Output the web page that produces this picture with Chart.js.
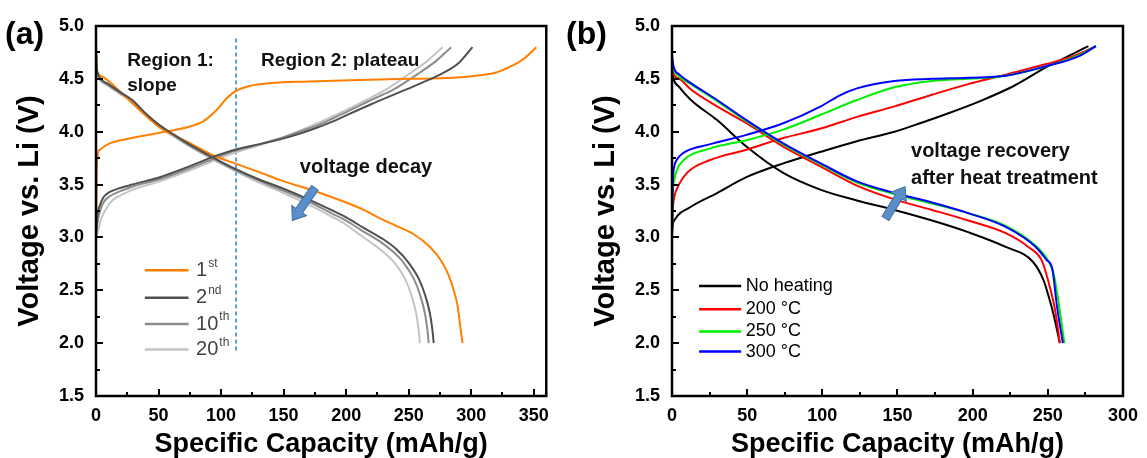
<!DOCTYPE html>
<html>
<head>
<meta charset="utf-8">
<script src="https://cdn.jsdelivr.net/npm/chart.js@4.4.1/dist/chart.umd.min.js"></script>
<style>
  body { margin: 0; background: #fff; }
  #wrap { position: relative; width: 1147px; height: 458px; }
  canvas { position: absolute; top: 0; }
  #chartA { left: 0; }
  #chartB { left: 558px; }
</style>
</head>
<body>
<div id="wrap">
  <canvas id="chartA" width="558" height="458"></canvas>
  <canvas id="chartB" width="589" height="458"></canvas>
</div>
<script>
// capacity (mAh/g), voltage (V) pairs for each cycle
const firstCharge = [[0,3.02],[0.3,3.4],[0.8,3.73],[3,3.83],[11,3.89],[29,3.94],[51,3.99],[72,4.04],[86,4.10],[96,4.20],[104,4.31],[111,4.38],[122,4.43],[140,4.46],[170,4.475],[210,4.49],[250,4.50],[285,4.51],[304,4.53],[320,4.56],[332,4.62],[342,4.69],[352,4.80]]
const firstDischarge = [[0,4.80],[0.5,4.65],[1,4.57],[5,4.52],[11,4.47],[20,4.37],[29,4.27],[40,4.15],[51,4.04],[60,3.98],[72,3.91],[93,3.78],[111,3.70],[130,3.62],[148,3.54],[177,3.43],[200,3.33],[214,3.26],[227,3.18],[240,3.11],[254,3.03],[267,2.91],[276,2.78],[282,2.64],[286,2.50],[289,2.36],[291,2.18],[293,2.0]]
const secondCharge = [[0,3.02],[1,3.2],[3,3.3],[6,3.38],[11,3.43],[20,3.47],[29,3.50],[51,3.57],[72,3.66],[93,3.76],[111,3.83],[130,3.88],[148,3.93],[165,3.99],[177,4.04],[190,4.10],[201,4.16],[220,4.26],[240,4.36],[260,4.46],[275,4.54],[290,4.65],[301,4.80]]
const secondDischarge = [[0,4.78],[0.5,4.62],[1.5,4.55],[3,4.51],[10,4.45],[20,4.37],[29,4.30],[40,4.17],[51,4.06],[60,3.99],[72,3.90],[93,3.76],[111,3.65],[130,3.55],[148,3.47],[170,3.36],[188,3.26],[200,3.19],[214,3.09],[230,2.98],[240,2.89],[250,2.76],[258,2.61],[263,2.46],[267,2.28],[269,2.12],[270,2.0]]
const tenthCharge = [[0,3.0],[1,3.12],[3,3.24],[6,3.33],[11,3.39],[20,3.44],[29,3.48],[51,3.55],[72,3.64],[93,3.74],[111,3.82],[130,3.88],[148,3.94],[165,4.01],[177,4.06],[190,4.13],[201,4.19],[220,4.30],[238,4.40],[259,4.56],[272,4.67],[284,4.80]]
const tenthDischarge = [[0,4.76],[0.5,4.60],[1.5,4.54],[3,4.50],[10,4.44],[20,4.36],[29,4.29],[40,4.16],[51,4.05],[60,3.98],[72,3.89],[93,3.75],[111,3.64],[130,3.54],[148,3.45],[170,3.34],[188,3.23],[200,3.16],[212,3.07],[226,2.97],[236,2.88],[246,2.76],[254,2.61],[259,2.46],[263,2.28],[265,2.12],[266,2.0]]
const twentiethCharge = [[0,3.0],[2,3.08],[4,3.17],[8,3.27],[13,3.35],[20,3.40],[29,3.45],[51,3.53],[72,3.62],[93,3.72],[111,3.80],[130,3.87],[148,3.94],[165,4.02],[177,4.08],[190,4.15],[201,4.21],[216,4.30],[232,4.40],[252,4.56],[265,4.67],[277,4.80]]
const twentiethDischarge = [[0,4.74],[0.5,4.58],[1.5,4.53],[3,4.49],[10,4.43],[20,4.35],[29,4.28],[40,4.15],[51,4.04],[60,3.97],[72,3.88],[93,3.74],[111,3.63],[130,3.52],[148,3.43],[170,3.31],[188,3.20],[200,3.12],[208,3.05],[220,2.95],[230,2.86],[240,2.74],[247,2.61],[252,2.46],[256,2.28],[258,2.12],[259,2.0]]

// heat treated samples
const noHeatCharge = [[0,3.05],[0.5,3.12],[1.5,3.16],[12.6,3.29],[30,3.42],[49.5,3.57],[74,3.70],[99,3.81],[123,3.91],[148,4.00],[165,4.08],[183,4.17],[205,4.29],[227,4.43],[249,4.61],[270,4.76],[277,4.81]]
const noHeatDischarge = [[0,4.58],[1,4.50],[5,4.42],[12.6,4.30],[30,4.11],[49.5,3.86],[74,3.61],[99,3.45],[123,3.35],[148,3.26],[173,3.16],[197,3.05],[222,2.91],[240,2.77],[247,2.60],[251,2.42],[254,2.26],[258,2.0]]
const heat200Charge = [[0,3.0],[0.5,3.25],[1.5,3.38],[3,3.45],[10,3.61],[25,3.73],[49.5,3.83],[74,3.94],[99,4.03],[123,4.14],[148,4.24],[173,4.35],[197,4.45],[222,4.54],[249,4.64],[270,4.73],[282,4.81]]
const heat200Discharge = [[0,4.65],[1,4.55],[5,4.50],[12.6,4.40],[30,4.24],[49.5,4.08],[74,3.86],[99,3.67],[123,3.49],[148,3.36],[173,3.26],[197,3.16],[222,3.04],[237,2.91],[246,2.78],[251,2.55],[255,2.30],[258,2.0]]
const heat250Charge = [[0,3.0],[0.5,3.4],[1.5,3.54],[3,3.63],[7.6,3.73],[25,3.84],[49.5,3.92],[74,4.02],[99,4.16],[123,4.30],[148,4.42],[173,4.48],[197,4.50],[222,4.53],[249,4.62],[270,4.72],[282,4.81]]
const heat250Discharge = [[0,4.68],[1,4.60],[5,4.52],[12.6,4.45],[30,4.29],[49.5,4.10],[74,3.88],[99,3.69],[123,3.52],[148,3.41],[173,3.32],[197,3.23],[222,3.11],[242,2.92],[251,2.76],[254,2.65],[257,2.40],[261,2.0]]
const heat300Charge = [[0,3.0],[0.5,3.5],[1.5,3.67],[3,3.73],[7.6,3.80],[25,3.88],[49.5,3.97],[74,4.08],[99,4.24],[111,4.34],[123,4.41],[148,4.48],[173,4.50],[197,4.51],[222,4.53],[249,4.62],[270,4.71],[282,4.81]]
const heat300Discharge = [[0,4.72],[1,4.62],[5,4.54],[12.6,4.46],[30,4.30],[49.5,4.11],[74,3.89],[99,3.70],[123,3.53],[148,3.42],[173,3.33],[197,3.23],[222,3.10],[242,2.91],[249,2.79],[253,2.70],[256,2.36],[260,2.0]]

const capTicksA = [0, 50, 100, 150, 200, 250, 300, 350]
const capTicksB = [0, 50, 100, 150, 200, 250, 300]
const voltTicks = [1.5, 2.0, 2.5, 3.0, 3.5, 4.0, 4.5, 5.0]

const cycleLabels = ['1', '2', '10', '20']
const cycleSup = ['st', 'nd', 'th', 'th']
const cycleColors = ['#ff7f00', '#505050', '#8c8c8c', '#c4c4c4']
const heatLabels = ['No heating', '200 °C', '250 °C', '300 °C']
const heatColors = ['#000000', '#ff0000', '#00ee00', '#0000ff']

const regionBoundary = 112   // slope / plateau split, mAh/g

const FONT = 'Arial, "Liberation Sans", sans-serif'

const pts = (arr) => arr.map(p => ({ x: p[0], y: p[1] }))

function curve(arr, color) {
  return {
    data: pts(arr),
    showLine: true,
    borderColor: color,
    borderWidth: 2,
    pointRadius: 0,
    cubicInterpolationMode: 'monotone',
    fill: false
  }
}

// box around the plot with inward major/minor ticks
const axisFrame = {
  id: 'axisFrame',
  afterDatasetsDraw(chart, args, opts) {
    const { ctx, chartArea: a, scales } = chart
    const x = scales.x, y = scales.y
    ctx.save()
    ctx.strokeStyle = '#000'
    ctx.lineWidth = 2.5
    ctx.strokeRect(a.left, a.top, a.right - a.left, a.bottom - a.top)
    ctx.lineWidth = 2
    ctx.beginPath()
    const nx = Math.floor((x.max - x.min) / opts.xMinor + 1e-6)
    for (let i = 1; i <= nx; i++) {
      const px = Math.round(x.getPixelForValue(x.min + i * opts.xMinor))
      if (px >= a.right - 1) continue
      const len = i % 2 === 0 ? 7 : 4
      ctx.moveTo(px, a.bottom)
      ctx.lineTo(px, a.bottom - len)
    }
    const ny = Math.floor((y.max - y.min) / opts.yMinor + 1e-6)
    for (let i = 1; i < ny; i++) {
      const py = Math.round(y.getPixelForValue(y.min + i * opts.yMinor))
      const len = i % 2 === 0 ? 7 : 4
      ctx.moveTo(a.left, py)
      ctx.lineTo(a.left + len, py)
    }
    ctx.stroke()
    ctx.restore()
  }
}

function drawArrow(ctx, x0, y0, x1, y1) {
  const ang = Math.atan2(y1 - y0, x1 - x0)
  const len = Math.hypot(x1 - x0, y1 - y0)
  const shaft = 4, head = 9, headLen = 12
  ctx.save()
  ctx.translate(x0, y0)
  ctx.rotate(ang)
  ctx.beginPath()
  ctx.moveTo(0, -shaft)
  ctx.lineTo(len - headLen, -shaft)
  ctx.lineTo(len - headLen, -head)
  ctx.lineTo(len, 0)
  ctx.lineTo(len - headLen, head)
  ctx.lineTo(len - headLen, shaft)
  ctx.lineTo(0, shaft)
  ctx.closePath()
  ctx.fillStyle = '#5b8fcc'
  ctx.fill()
  ctx.strokeStyle = '#41719c'
  ctx.lineWidth = 1
  ctx.stroke()
  ctx.restore()
}

// panel letter, annotations, arrow and legend
const notes = {
  id: 'notes',
  afterDraw(chart, args, opts) {
    const { ctx, scales: { x, y } } = chart
    ctx.save()
    ctx.textBaseline = 'middle'
    ctx.textAlign = 'left'
    ctx.fillStyle = '#000'
    ctx.font = `bold 32px ${FONT}`
    ctx.fillText(opts.panel, opts.panelX, 35)

    opts.texts.forEach(t => {
      ctx.font = `bold ${t.size}px ${FONT}`
      ctx.fillStyle = '#111'
      ctx.fillText(t.text, x.getPixelForValue(t.x), y.getPixelForValue(t.y))
    })

    const ar = opts.arrow
    drawArrow(ctx, x.getPixelForValue(ar[0]), y.getPixelForValue(ar[1]),
      x.getPixelForValue(ar[2]), y.getPixelForValue(ar[3]))

    const lg = opts.legend
    lg.labels.forEach((label, i) => {
      const py = y.getPixelForValue(lg.rows[i])
      ctx.strokeStyle = lg.colors[i]
      ctx.lineWidth = 2.5
      ctx.beginPath()
      ctx.moveTo(x.getPixelForValue(lg.x0), py)
      ctx.lineTo(x.getPixelForValue(lg.x1), py)
      ctx.stroke()
      const tx = x.getPixelForValue(lg.tx)
      ctx.fillStyle = lg.textColor
      ctx.font = `${lg.size}px ${FONT}`
      ctx.fillText(label, tx, py)
      if (lg.sup) {
        const w = ctx.measureText(label).width
        ctx.font = `${lg.size * 0.6}px ${FONT}`
        ctx.fillText(lg.sup[i], tx + w + 1, py - 7)
      }
    })
    ctx.restore()
  }
}

function axes(xMax, xTicks, yTitlePad) {
  return {
    x: {
      type: 'linear', min: 0, max: xMax,
      afterBuildTicks: s => { s.ticks = xTicks.map(v => ({ value: v })) },
      afterFit: s => { s.height = 62 },
      grid: { display: false, drawTicks: false },
      border: { display: false },
      ticks: { padding: 9, color: '#000', font: { family: FONT, size: 18, weight: 'bold' } },
      title: {
        display: true, text: 'Specific Capacity (mAh/g)', color: '#000',
        padding: { top: 0, bottom: 0 },
        font: { family: FONT, size: 27, weight: 'bold', lineHeight: 1 }
      }
    },
    y: {
      type: 'linear', min: 1.5, max: 5.0,
      afterBuildTicks: s => { s.ticks = voltTicks.map(v => ({ value: v })) },
      afterFit: s => { s.width = yTitlePad.width },
      grid: { display: false, drawTicks: false },
      border: { display: false },
      ticks: { padding: 12, color: '#000', callback: v => v.toFixed(1), font: { family: FONT, size: 18, weight: 'bold' } },
      title: {
        display: true, text: 'Voltage vs. Li (V)', color: '#000',
        padding: { top: yTitlePad.pad, bottom: 0 },
        font: { family: FONT, size: 29, weight: 'bold', lineHeight: 1 }
      }
    }
  }
}

// (a) cycling of the pristine cathode
const boundaryLine = {
  data: pts([[regionBoundary, 1.93], [regionBoundary, 4.9]]),
  showLine: true, borderColor: '#1b7fd0', borderWidth: 1.5, borderDash: [4, 3],
  pointRadius: 0, tension: 0
}

new Chart(document.getElementById('chartA'), {
  type: 'scatter',
  data: {
    datasets: [
      curve(secondCharge, cycleColors[1]), curve(secondDischarge, cycleColors[1]),
      curve(firstCharge, cycleColors[0]), curve(firstDischarge, cycleColors[0]),
      curve(tenthCharge, cycleColors[2]), curve(tenthDischarge, cycleColors[2]),
      curve(twentiethCharge, cycleColors[3]), curve(twentiethDischarge, cycleColors[3]),
      boundaryLine
    ]
  },
  options: {
    responsive: false,
    animation: false,
    layout: { padding: { top: 26, right: 8, left: 0, bottom: 0 } },
    scales: axes(360, capTicksA, { width: 96, pad: 15 }),
    plugins: {
      legend: { display: false },
      tooltip: { enabled: false },
      axisFrame: { xMinor: 25, yMinor: 0.25 },
      notes: {
        panel: '(a)', panelX: 5,
        texts: [
          { text: 'Region 1:', x: 25, y: 4.67, size: 19 },
          { text: 'slope', x: 25, y: 4.43, size: 19 },
          { text: 'Region 2: plateau', x: 132, y: 4.67, size: 19 },
          { text: 'voltage decay', x: 163, y: 3.66, size: 20 }
        ],
        arrow: [175, 3.47, 157, 3.16],
        legend: {
          labels: cycleLabels, sup: cycleSup, colors: cycleColors,
          rows: [2.69, 2.43, 2.18, 1.94], x0: 39, x1: 74, tx: 80,
          size: 20, textColor: '#444'
        }
      }
    }
  },
  plugins: [axisFrame, notes]
})

// (b) effect of heat treatment
new Chart(document.getElementById('chartB'), {
  type: 'scatter',
  data: {
    datasets: [
      curve(heat300Charge, heatColors[3]), curve(heat300Discharge, heatColors[3]),
      curve(heat250Charge, heatColors[2]), curve(heat250Discharge, heatColors[2]),
      curve(heat200Charge, heatColors[1]), curve(heat200Discharge, heatColors[1]),
      curve(noHeatCharge, heatColors[0]), curve(noHeatDischarge, heatColors[0])
    ]
  },
  options: {
    responsive: false,
    animation: false,
    layout: { padding: { top: 26, right: 18, left: 0, bottom: 0 } },
    scales: axes(300, capTicksB, { width: 114, pad: 33 }),
    plugins: {
      legend: { display: false },
      tooltip: { enabled: false },
      axisFrame: { xMinor: 25, yMinor: 0.25 },
      notes: {
        panel: '(b)', panelX: 8,
        texts: [
          { text: 'voltage recovery', x: 159, y: 3.81, size: 20 },
          { text: 'after heat treatment', x: 159, y: 3.56, size: 20 }
        ],
        arrow: [142, 3.18, 155, 3.48],
        legend: {
          labels: heatLabels, colors: heatColors,
          rows: [2.54, 2.32, 2.11, 1.92], x0: 18, x1: 46, tx: 49,
          size: 18, textColor: '#000'
        }
      }
    }
  },
  plugins: [axisFrame, notes]
})
</script>
</body>
</html>
